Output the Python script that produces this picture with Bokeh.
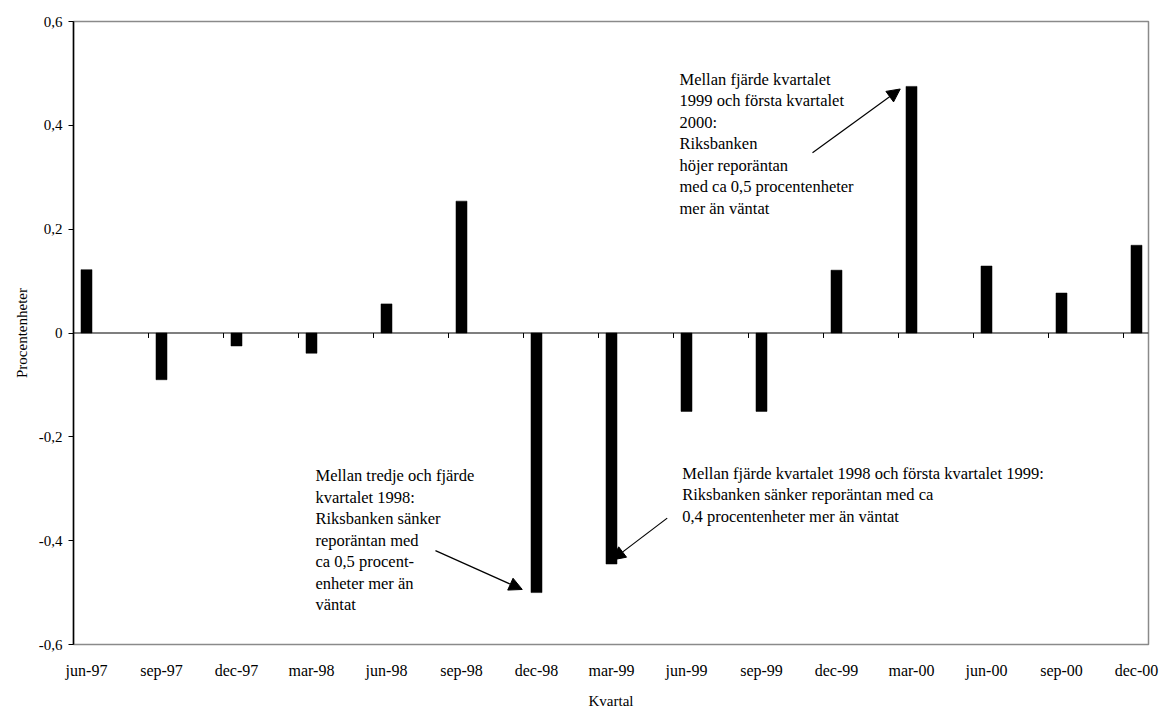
from bokeh.plotting import figure
from bokeh.models import (ColumnDataSource, FixedTicker, Span, Label, Arrow,
                          NormalHead, Range1d)
from bokeh.embed import file_html
from bokeh.resources import INLINE

# Quarterly surprise in the repo rate (percentage points)
quarters = ["jun-97", "sep-97", "dec-97", "mar-98", "jun-98", "sep-98", "dec-98",
            "mar-99", "jun-99", "sep-99", "dec-99", "mar-00", "jun-00", "sep-00", "dec-00"]
surprise = [0.122, -0.090, -0.025, -0.039, 0.056, 0.254, -0.500,
            -0.445, -0.151, -0.151, 0.121, 0.475, 0.129, 0.077, 0.169]

y_ticks = [-0.6, -0.4, -0.2, 0.0, 0.2, 0.4, 0.6]
y_tick_labels = ["-0,6", "-0,4", "-0,2", "0", "0,2", "0,4", "0,6"]

FONT = "Liberation Serif"

xs = list(range(len(quarters)))
src = ColumnDataSource(dict(x=xs, top=surprise, q=quarters))

p = figure(width=1160, height=711, output_backend="svg", toolbar_location=None,
           x_range=Range1d(-0.1733, 14.16), y_range=Range1d(-0.6, 0.6),
           min_border_left=73, min_border_right=12, min_border_top=21,
           min_border_bottom=64)
p.background_fill_color = "white"
p.border_fill_color = "white"
p.outline_line_color = "#8a8a8a"
p.outline_line_width = 1.5
p.xgrid.visible = False
p.ygrid.visible = False

p.vbar(x="x", top="top", bottom=0, width=0.147, source=src,
       fill_color="black", line_color="black", line_width=0.5)

# horizontal axis line at zero with category dividers
p.add_layout(Span(location=0, dimension="width", line_color="black", line_width=1.2))
div_x = [i + 0.8267 for i in range(len(quarters) - 1)]
p.segment(x0=div_x, x1=div_x, y0=[0] * len(div_x), y1=[-0.0096] * len(div_x),
          line_color="black", line_width=1)

# y axis
ya = p.yaxis[0]
ya.ticker = FixedTicker(ticks=y_ticks)
ya.major_label_overrides = {t: l for t, l in zip(y_ticks, y_tick_labels)}
ya.axis_label = "Procentenheter"
ya.axis_line_color = "black"
ya.axis_line_width = 1.5
ya.major_tick_out = 5
ya.major_tick_in = 0
ya.minor_tick_out = 0
ya.minor_tick_in = 0
ya.major_label_standoff = 6
ya.axis_label_standoff = 6
ya.major_label_text_font = FONT
ya.major_label_text_font_size = "15px"
ya.axis_label_text_font = FONT
ya.axis_label_text_font_size = "15px"
ya.axis_label_text_font_style = "normal"
ya.major_label_text_color = "black"
ya.axis_label_text_color = "black"

# x axis labels
xa = p.xaxis[0]
xa.ticker = FixedTicker(ticks=xs)
xa.major_label_overrides = {i: q for i, q in zip(xs, quarters)}
xa.axis_label = "Kvartal"
xa.axis_line_color = None
xa.major_tick_out = 0
xa.major_tick_in = 0
xa.minor_tick_out = 0
xa.minor_tick_in = 0
xa.major_label_standoff = 17
xa.axis_label_standoff = 11
xa.major_label_text_font = FONT
xa.major_label_text_font_size = "16px"
xa.axis_label_text_font = FONT
xa.axis_label_text_font_size = "15px"
xa.axis_label_text_font_style = "normal"
xa.major_label_text_color = "black"
xa.axis_label_text_color = "black"

# annotations
notes = [
    (7.907, 0.507, "Mellan fjärde kvartalet\n1999 och första kvartalet\n2000:\nRiksbanken\n"
                   "höjer reporäntan\nmed ca 0,5 procentenheter\nmer än väntat"),
    (3.053, -0.257, "Mellan tredje och fjärde\nkvartalet 1998:\nRiksbanken sänker\n"
                    "reporäntan med\nca 0,5 procent-\nenheter mer än\nväntat"),
    (7.943, -0.252, "Mellan fjärde kvartalet 1998 och första kvartalet 1999:\n"
                    "Riksbanken sänker reporäntan med ca\n0,4 procentenheter mer än väntat"),
]
for nx, ny, txt in notes:
    p.add_layout(Label(x=nx, y=ny, text=txt, text_font=FONT, text_font_size="16.5px",
                       text_color="black", text_baseline="top", text_align="left",
                       text_line_height=1.13))

# arrows pointing at the highlighted quarters
arrows = [
    (9.68, 0.347, 11 - 0.15, surprise[11] - 0.005),
    (4.653, -0.4192, 6 - 0.19, surprise[6] + 0.006),
    (7.743, -0.3566, 7 + 0.01, surprise[7] + 0.008),
]
for x0, y0, x1, y1 in arrows:
    p.add_layout(Arrow(x_start=x0, y_start=y0, x_end=x1, y_end=y1,
                       line_color="black", line_width=1.2,
                       end=NormalHead(size=13, fill_color="black", line_color="black")))

open("out.html", "w").write(file_html(p, INLINE))
